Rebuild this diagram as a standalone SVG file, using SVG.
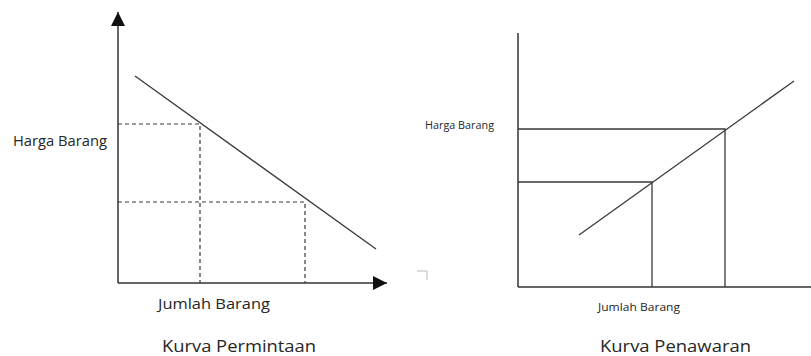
<svg xmlns="http://www.w3.org/2000/svg" width="811" height="356" viewBox="0 0 811 356">
<style>
.ax{stroke:#333;stroke-width:1.5;fill:none}
.ln{stroke:#3a3a3a;stroke-width:1.3;fill:none}
.ds{stroke:#3a3a3a;stroke-width:1.2;stroke-dasharray:4 3;fill:none}
text{font-family:"Open Sans","Noto Sans","Liberation Sans",sans-serif;fill:#262626}
</style>
<defs>
<marker id="ah" viewBox="0 0 14 14" refX="14" refY="7" markerWidth="14" markerHeight="14" markerUnits="userSpaceOnUse" orient="auto">
<path d="M0,0 L14,7 L0,14 Z" fill="#111"/>
</marker>
</defs>
<rect width="811" height="356" fill="#fff"/>
<g id="demand-chart">
<g id="axes-demand">
<line class="ax" x1="118" y1="283" x2="118" y2="12" marker-end="url(#ah)"/>
<line class="ax" x1="118" y1="283" x2="387" y2="283" marker-end="url(#ah)"/>
</g>
<line class="ln" x1="135" y1="76" x2="376" y2="249"/>
<polyline class="ds" points="118,124 200,124 200,283"/>
<polyline class="ds" points="118,202 305,202 305,283"/>
<text x="13" y="146" font-size="14" textLength="94" lengthAdjust="spacingAndGlyphs">Harga Barang</text>
<text x="158" y="309" font-size="15" textLength="112" lengthAdjust="spacingAndGlyphs">Jumlah Barang</text>
<text x="162" y="352" font-size="17" textLength="154" lengthAdjust="spacingAndGlyphs">Kurva Permintaan</text>
</g>
<polyline points="417,271 427,271 427,280" fill="none" stroke="#bbb" stroke-width="1"/>
<g id="supply-chart">
<g id="axes-supply">
<line class="ax" x1="518" y1="33" x2="518" y2="287"/>
<line class="ax" x1="518" y1="287" x2="811" y2="287"/>
</g>
<line class="ln" x1="579" y1="235" x2="794" y2="81"/>
<polyline class="ln" points="518,129 725,129 725,287"/>
<polyline class="ln" points="518,182 652,182 652,287"/>
<text x="425" y="129" font-size="10" textLength="69" lengthAdjust="spacingAndGlyphs">Harga Barang</text>
<text x="598" y="311" font-size="11" textLength="82" lengthAdjust="spacingAndGlyphs">Jumlah Barang</text>
<text x="600" y="352" font-size="17" textLength="151" lengthAdjust="spacingAndGlyphs">Kurva Penawaran</text>
</g>
</svg>
